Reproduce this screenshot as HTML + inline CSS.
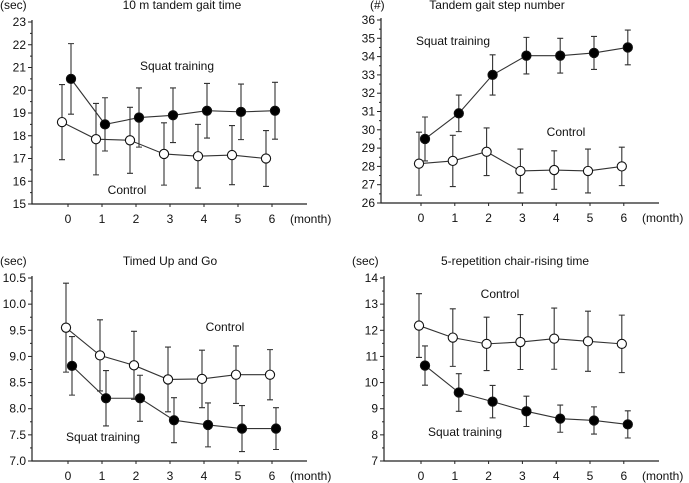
<!DOCTYPE html>
<html><head><meta charset="utf-8"><style>
html,body{margin:0;padding:0;background:#fff;}
svg{display:block;font-family:"Liberation Sans",Arial,sans-serif;}
text{font-size:12px;fill:#111;}
</style></head><body>
<svg id="chart" width="689" height="483" viewBox="0 0 689 483"></svg>
<script>
const months = [0,1,2,3,4,5,6];
// Panel A: 10 m tandem gait time
const aSquat = [20.5,18.5,18.8,18.9,19.1,19.05,19.1];
const aSquatSD = [1.55,1.17,1.3,1.2,1.2,1.22,1.25];
const aCtrl = [18.6,17.85,17.8,17.2,17.1,17.15,17.0];
const aCtrlSD = [1.65,1.57,1.45,1.37,1.4,1.3,1.23];
const aTicks = [15,16,17,18,19,20,21,22,23];
// Panel B: Tandem gait step number
const bSquat = [29.5,30.9,33.0,34.05,34.05,34.2,34.5];
const bSquatSD = [1.2,1.0,1.1,1.0,0.95,0.9,0.95];
const bCtrl = [28.15,28.3,28.8,27.75,27.8,27.75,28.0];
const bCtrlSD = [1.72,1.4,1.3,1.2,1.05,1.2,1.05];
const bTicks = [26,27,28,29,30,31,32,33,34,35,36];
// Panel C: Timed Up and Go
const cSquat = [8.82,8.2,8.2,7.78,7.69,7.62,7.62];
const cSquatSD = [0.56,0.53,0.44,0.43,0.42,0.44,0.4];
const cCtrl = [9.55,9.02,8.83,8.56,8.57,8.65,8.65];
const cCtrlSD = [0.85,0.68,0.65,0.62,0.55,0.55,0.48];
const cTicks = [7.0,7.5,8.0,8.5,9.0,9.5,10.0,10.5];
// Panel D: 5-repetition chair-rising time
const dSquat = [10.65,9.62,9.27,8.9,8.62,8.55,8.4];
const dSquatSD = [0.75,0.72,0.62,0.58,0.52,0.52,0.52];
const dCtrl = [12.18,11.72,11.48,11.55,11.68,11.58,11.48];
const dCtrlSD = [1.22,1.1,1.02,1.05,1.17,1.15,1.1];
const dTicks = [7,8,9,10,11,12,13,14];

const NS="http://www.w3.org/2000/svg";
const svg=document.getElementById('chart');
function mk(tag,attrs,parent){const e=document.createElementNS(NS,tag);for(const k in attrs)e.setAttribute(k,attrs[k]);(parent||svg).appendChild(e);return e;}
function txt(s,x,y,anchor,parent){const t=mk('text',{x:x,y:y,'text-anchor':anchor||'start'},parent);t.textContent=s;return t;}

function panel(o){
  const g=mk('g',{});
  
  
  const ymin=o.ticks[0], ymax=o.ticks[o.ticks.length-1];
  const Y=v=>o.yBot-(v-ymin)/(ymax-ymin)*(o.yBot-o.yTop);
  const X=m=>o.x0+m*o.dx;
  const ax=mk('path',{d:`M${o.ax},${o.yTop-2}V${o.yBot}H${o.axEnd}`,stroke:'#222','stroke-width':1.2,fill:'none'},g);
  
  
  o.ticks.forEach((v,i)=>{
    mk('line',{x1:o.ax-4,x2:o.ax,y1:Y(v),y2:Y(v),stroke:'#222'},g);
    if(i<o.ticks.length-1){const mv=(v+o.ticks[i+1])/2;mk('line',{x1:o.ax-2,x2:o.ax,y1:Y(mv),y2:Y(mv),stroke:'#222'},g);}
    const t=txt(o.fmt(v),o.ax-6,Y(v)+4,'end',g);
    
    
  });
  months.forEach(m=>{
    mk('line',{x1:X(m),x2:X(m),y1:o.yBot,y2:o.yBot+3,stroke:'#222'},g);
    const t=txt(String(m),X(m),o.yBot+19,'middle',g);
    
    
  });
  const mt=txt('(month)',o.axEnd-17,o.yBot+19,'start',g);
  
  
  const ut=txt(o.unit,o.unitX,o.titleY,'start',g);
  
  
  const tt=txt(o.title,o.titleX,o.titleY,'middle',g);
  
  
  [[o.ctrl,o.ctrlSD,o.offC,'#fff','control'],[o.squat,o.squatSD,o.offS,'#000','squat-training']].forEach(([vals,sd,off,fill,nm])=>{
    const sg=mk('g',{},g);
    
    
    vals.forEach((v,i)=>{
      const x=X(i)+off;
      mk('path',{d:`M${x},${Y(v-sd[i])}V${Y(v+sd[i])}M${x-3},${Y(v-sd[i])}h6M${x-3},${Y(v+sd[i])}h6`,stroke:'#333','stroke-width':1.1,fill:'none'},sg);
    });
    const ln=mk('polyline',{points:vals.map((v,i)=>`${X(i)+off},${Y(v)}`).join(' '),stroke:'#333','stroke-width':1.1,fill:'none'},sg);
    
    
    vals.forEach((v,i)=>{
      const c=mk('circle',{cx:X(i)+off,cy:Y(v),r:4.6,fill:fill,stroke:'#111','stroke-width':1.1},sg);
      
      
    });
  });
  const ls=txt('Squat training',o.sqLbl[0],o.sqLbl[1],'middle',g);
  
  
  const lc=txt('Control',o.ctLbl[0],o.ctLbl[1],'middle',g);
  
  
}
const f0=v=>String(v), f1=v=>v.toFixed(1);
panel({name:'panel-tandem-gait-time',ticks:aTicks,fmt:f0,yTop:22,yBot:204,ax:32,axEnd:307,x0:68,dx:34,offC:-6,offS:3,
  squat:aSquat,squatSD:aSquatSD,ctrl:aCtrl,ctrlSD:aCtrlSD,title:'10 m tandem gait time',titleX:182,titleY:9,unit:'(sec)',unitX:0,
  sqLbl:[177,70],ctLbl:[127,194]});
panel({name:'panel-tandem-step-number',ticks:bTicks,fmt:f0,yTop:20,yBot:203,ax:381,axEnd:659,x0:421,dx:33.8,offC:-2,offS:4,
  squat:bSquat,squatSD:bSquatSD,ctrl:bCtrl,ctrlSD:bCtrlSD,title:'Tandem gait step number',titleX:497,titleY:9,unit:'(#)',unitX:370,
  sqLbl:[453,45],ctLbl:[566,136]});
panel({name:'panel-timed-up-and-go',ticks:cTicks,fmt:f1,yTop:278,yBot:461,ax:32,axEnd:307,x0:68,dx:34,offC:-2,offS:4,
  squat:cSquat,squatSD:cSquatSD,ctrl:cCtrl,ctrlSD:cCtrlSD,title:'Timed Up and Go',titleX:170,titleY:265,unit:'(sec)',unitX:0,
  sqLbl:[103,441],ctLbl:[225,331]});
panel({name:'panel-chair-rising-time',ticks:dTicks,fmt:f0,yTop:278,yBot:461,ax:384,axEnd:659,x0:421,dx:33.8,offC:-2,offS:4,
  squat:dSquat,squatSD:dSquatSD,ctrl:dCtrl,ctrlSD:dCtrlSD,title:'5-repetition chair-rising time',titleX:515,titleY:265,unit:'(sec)',unitX:352,
  sqLbl:[465,436],ctLbl:[500,298]});
</script>
</body></html>
